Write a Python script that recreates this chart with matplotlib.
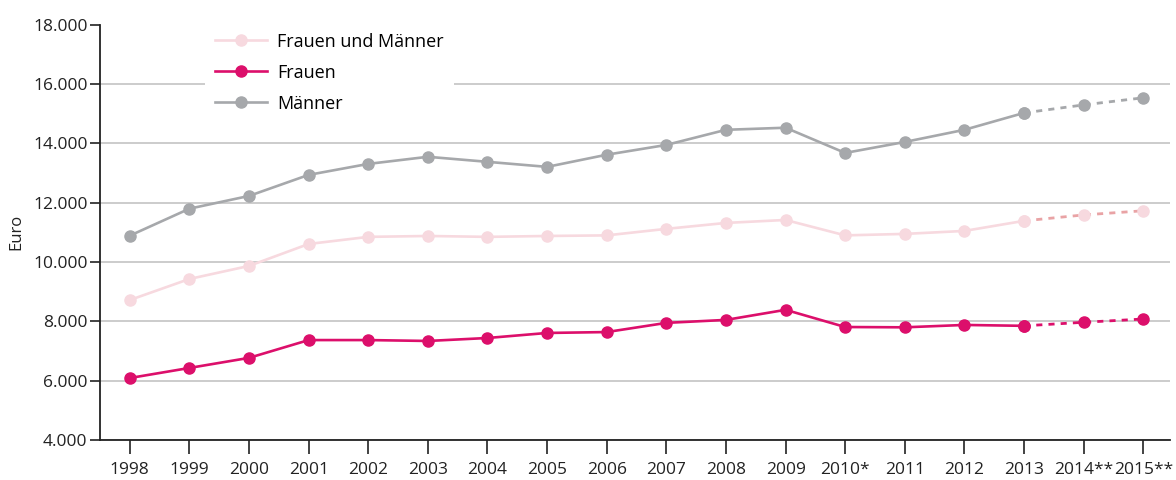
import matplotlib
matplotlib.use("Agg")
import matplotlib.pyplot as plt

plt.rcParams['font.family'] = ['Open Sans', 'DejaVu Sans']

years = ["1998", "1999", "2000", "2001", "2002", "2003", "2004", "2005", "2006",
         "2007", "2008", "2009", "2010*", "2011", "2012", "2013", "2014**", "2015**"]
frauen_und_maenner = [8720, 9430, 9870, 10610, 10850, 10880, 10850, 10880, 10900,
                      11120, 11320, 11420, 10900, 10950, 11050, 11390, 11590, 11730]
frauen = [6090, 6430, 6770, 7370, 7370, 7340, 7440, 7610, 7640,
          7950, 8050, 8390, 7810, 7800, 7880, 7850, 7970, 8080]
maenner = [10890, 11800, 12230, 12940, 13310, 13550, 13380, 13210, 13620,
           13950, 14460, 14530, 13680, 14050, 14460, 15030, 15300, 15540]
n_actual = 16  # values up to 2013 are observed, later ones projected
yticks = [4000, 6000, 8000, 10000, 12000, 14000, 16000, 18000]

series = [
    ("Frauen und Männer", frauen_und_maenner, "#f7d9df", "#e9a3a5"),
    ("Frauen", frauen, "#dc0f6b", "#dc0f6b"),
    ("Männer", maenner, "#a6a8ab", "#a6a8ab"),
]

fig = plt.figure(figsize=(11.76, 4.8), dpi=100)
ax = fig.add_axes([0.085, 0.0833, 0.91, 0.865])

x = list(range(len(years)))
for label, vals, col, dcol in series:
    ax.plot(x[n_actual - 1:], vals[n_actual - 1:], color=dcol, lw=2.0,
            ls=(0, (2.2, 2.2)), zorder=3)
    ax.plot(x[n_actual - 1:], vals[n_actual - 1:], ls='none', marker='o',
            ms=8, color=col, zorder=4)
    ax.plot(x[:n_actual], vals[:n_actual], color=col, lw=1.9, marker='o',
            ms=8, label=label, zorder=4)

ax.set_xlim(-0.5, 17.45)
ax.set_ylim(4000, 18000)
ax.set_xticks(x)
ax.set_xticklabels(years)
ax.set_yticks(yticks)
ax.set_yticklabels([f"{v:,}".replace(",", ".") for v in yticks])
ax.grid(axis='y', color='#c8c8c8', lw=1.3)
ax.get_ygridlines()[-1].set_visible(False)
ax.set_axisbelow(True)
for s in ['top', 'right']:
    ax.spines[s].set_visible(False)
for s in ['left', 'bottom']:
    ax.spines[s].set_color('#222222')
    ax.spines[s].set_linewidth(1.3)
ax.tick_params(axis='x', length=10, width=1.2, color='#222222', labelsize=12.5,
               pad=6, labelcolor='#222222')
ax.tick_params(axis='y', length=7, width=1.2, color='#222222', labelsize=12.5,
               pad=2, labelcolor='#222222')
ax.set_ylabel("Euro", fontsize=12, color='#222222', labelpad=6)

leg = ax.legend(loc='upper left', bbox_to_anchor=(0.098, 1.005), frameon=True,
                fontsize=13, handlelength=2.9, borderpad=0.55, labelspacing=0.72,
                handletextpad=0.55, borderaxespad=0)
leg.get_frame().set_facecolor('white')
leg.get_frame().set_edgecolor('none')
leg.get_frame().set_alpha(1)
leg.get_frame().set_boxstyle('square', pad=0)

fig.savefig("out.png", dpi=100)
